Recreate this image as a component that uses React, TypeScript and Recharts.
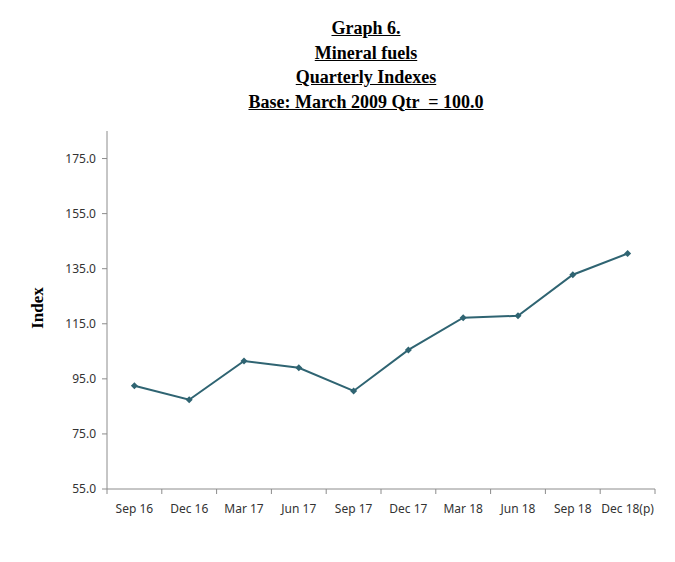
import React from 'react';
import { LineChart, Line, XAxis, YAxis } from 'recharts';

const quarters = ['Sep 16', 'Dec 16', 'Mar 17', 'Jun 17', 'Sep 17', 'Dec 17', 'Mar 18', 'Jun 18', 'Sep 18', 'Dec 18(p)'];
const indexValues = [92.5, 87.4, 101.5, 99.0, 90.6, 105.5, 117.2, 117.9, 132.8, 140.5];
const yTicks = [55, 75, 95, 115, 135, 155, 175];
const titleLines = ['Graph 6.', 'Mineral fuels', 'Quarterly Indexes', 'Base: March 2009 Qtr  = 100.0'];

const LINE_COLOR = '#2f6472';
const AXIS_COLOR = '#8c8c8c';
const TICK_FONT = '"Noto Sans", sans-serif';

// each quarter sits in the middle of its own slot; slot edges get tick marks
const data = quarters.map((name, i) => ({ name, pos: i + 0.5, value: indexValues[i] }));
const xTicks = quarters.flatMap((_, i) => [i, i + 0.5]).concat(quarters.length);

const XTick = (props: { x?: number; y?: number; payload?: { value: number } }) => {
  const { x = 0, y = 0, payload } = props;
  const v = payload ? payload.value : 0;
  if (Number.isInteger(v)) {
    return <line x1={x} x2={x} y1={y} y2={y + 5} stroke={AXIS_COLOR} />;
  }
  return (
    <text x={x} y={y + 24} textAnchor="middle" fill="#333" fontSize={12} fontFamily={TICK_FONT}>
      {quarters[Math.floor(v)]}
    </text>
  );
};

const Diamond = (props: { cx?: number; cy?: number; index?: number }) => {
  const { cx, cy, index } = props;
  if (cx == null || cy == null) return null;
  const r = 3.5;
  return (
    <polygon
      key={`d-${index}`}
      points={`${cx},${cy - r} ${cx + r},${cy} ${cx},${cy + r} ${cx - r},${cy}`}
      fill={LINE_COLOR}
    />
  );
};

export default function App() {
  return (
    <div style={{ position: 'relative', width: 675, height: 562, margin: -8, background: '#fff', overflow: 'hidden' }}>
      <div style={{ position: 'absolute', left: 7, top: 7, right: 0, bottom: 0, borderTop: '1px solid #999', borderLeft: '1px solid #999' }} />
      <div style={{ position: 'absolute', left: 166, width: 400, top: 16, textAlign: 'center', fontFamily: '"Liberation Serif", serif', fontWeight: 'bold', fontSize: 18, lineHeight: '24.5px', color: '#000' }}>
        {titleLines.map((t) => (
          <div key={t}><span style={{ textDecoration: 'underline', whiteSpace: 'pre' }}>{t}</span></div>
        ))}
      </div>
      <div style={{ position: 'absolute', left: 38, top: 308, transform: 'translate(-50%, -50%) rotate(-90deg)', fontFamily: '"Liberation Serif", serif', fontWeight: 'bold', fontSize: 17, color: '#000' }}>
        Index
      </div>
      <div style={{ position: 'absolute', left: 0, top: 0 }}>
        <LineChart width={675} height={562} data={data} margin={{ top: 131, right: 20, left: 27, bottom: 43 }}>
          <XAxis
            type="number"
            dataKey="pos"
            domain={[0, quarters.length]}
            ticks={xTicks}
            interval={0}
            tickSize={0}
            tickMargin={0}
            tickLine={false}
            height={30}
            axisLine={{ stroke: AXIS_COLOR }}
            tick={<XTick />}
          />
          <YAxis
            type="number"
            domain={[55, 185]}
            ticks={yTicks}
            width={80}
            tickSize={5}
            tickMargin={6}
            tickFormatter={(v: number) => v.toFixed(1)}
            axisLine={{ stroke: AXIS_COLOR }}
            tickLine={{ stroke: AXIS_COLOR }}
            tick={{ fill: '#333', fontSize: 12, fontFamily: TICK_FONT }}
          />
          <Line
            type="linear"
            dataKey="value"
            stroke={LINE_COLOR}
            strokeWidth={2}
            dot={<Diamond />}
            activeDot={false}
            isAnimationActive={false}
          />
        </LineChart>
      </div>
    </div>
  );
}
